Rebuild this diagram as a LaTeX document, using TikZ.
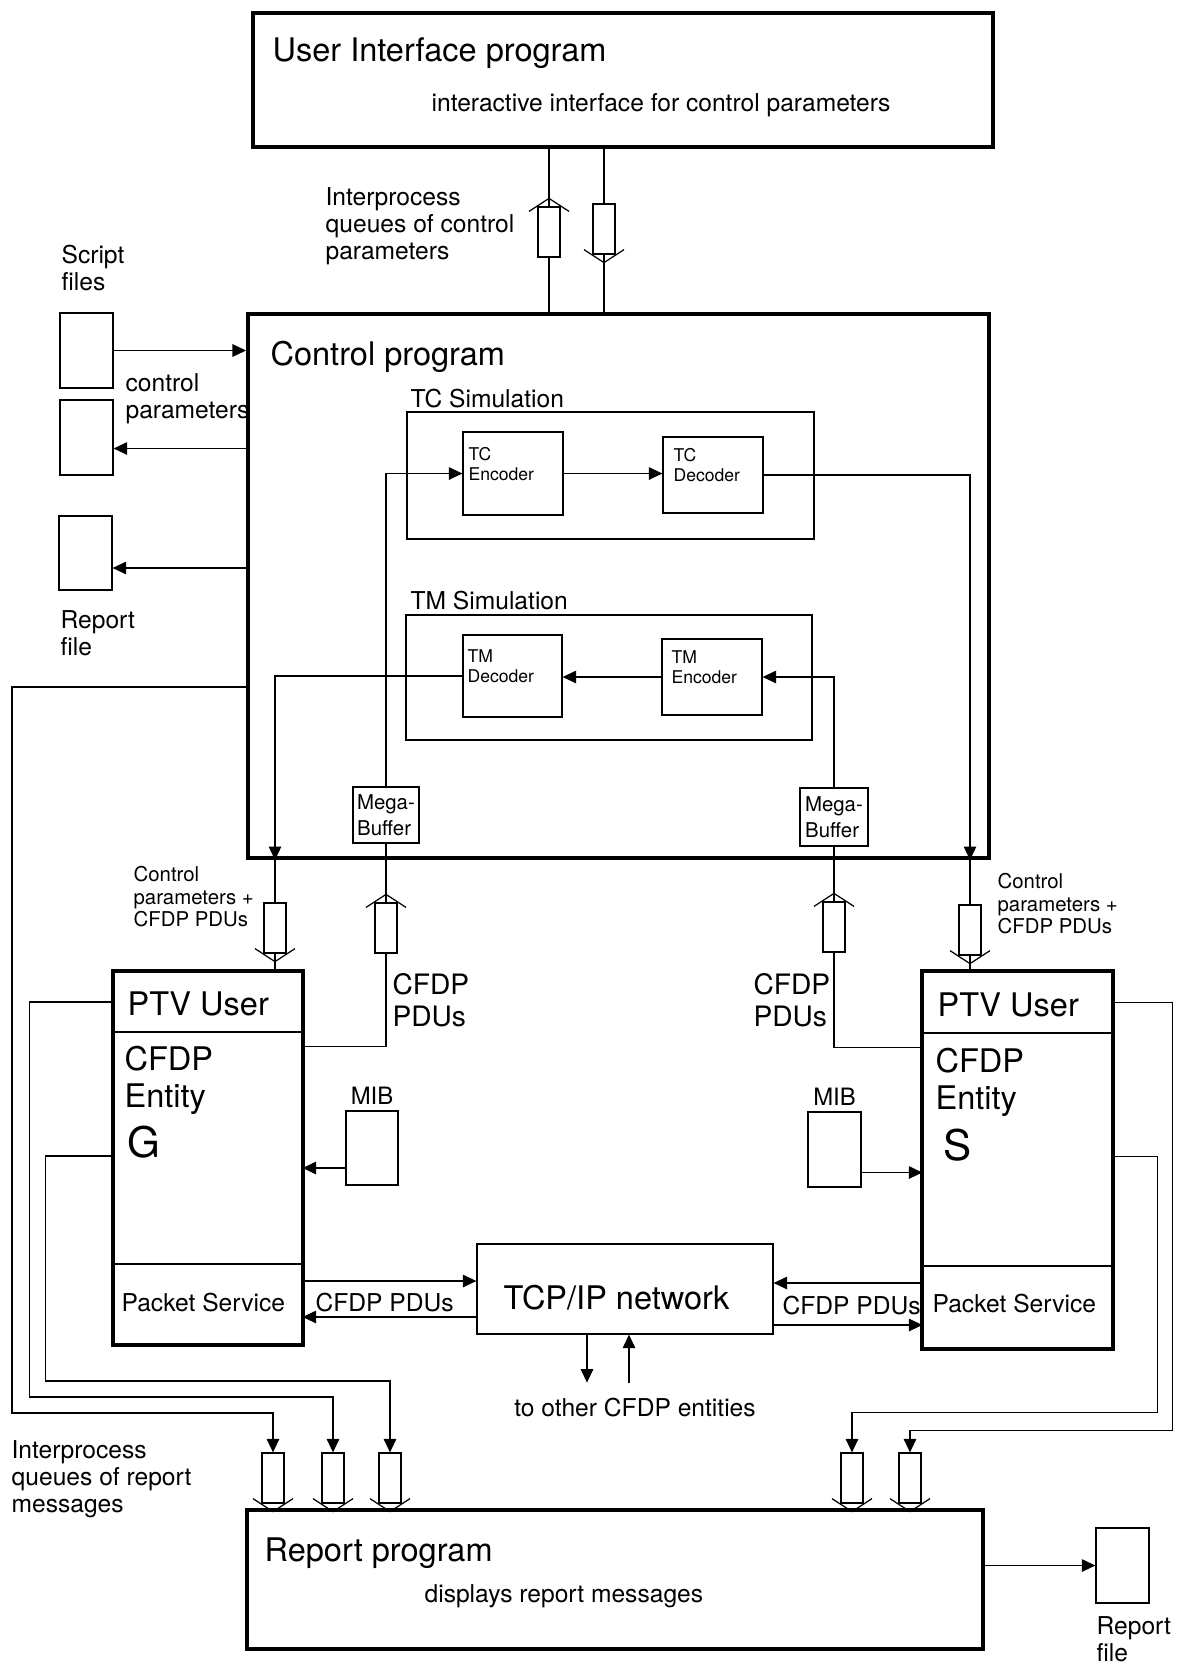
\documentclass[tikz,border=0pt]{standalone}
\usepackage{fontspec}
\setmainfont{TeX Gyre Heros}
\usetikzlibrary{arrows.meta}

\begin{document}
\begin{tikzpicture}[x=0.2mm, y=-0.2mm, line width=0.7pt,
    >={Triangle[length=2.7mm, width=2.5mm]},
    boite/.style={draw, rectangle, inner sep=0pt},
    epais/.style={line width=0.8mm},
    queue/.style={draw, rectangle, inner sep=0pt, minimum width=4.4mm, minimum height=10mm},
    texte/.style={inner sep=0pt, anchor=west, align=left},
    grand/.style={font=\fontsize{18.5}{21}\selectfont},
    moyen/.style={font=\fontsize{14}{15.5}\selectfont},
    petit/.style={font=\fontsize{11.6}{12.8}\selectfont},
    mini/.style={font=\fontsize{10}{11.4}\selectfont},
    pdu/.style={font=\fontsize{16}{18.2}\selectfont},
    lettre/.style={font=\fontsize{24}{26}\selectfont}]

    \useasboundingbox (0,0) rectangle (1177,1670);

    % Programme d'interface utilisateur
    \node[boite, epais, minimum width=148mm, minimum height=26.8mm] (UI) at (623,80) {};
    \node[texte, grand] (UIt) at (272,53) {User Interface program};
    \node[texte, moyen] (UIs) at (431,105) {interactive interface for control parameters};

    % Programme de controle
    \node[boite, epais, minimum width=148.2mm, minimum height=108.8mm] (CP) at (618.5,586) {};
    \node[texte, grand] (CPt) at (270,357) {Control program};

    % Files de parametres entre UI et controle
    \node[queue] (QA) at (549,232) {};
    \node[queue] (QB) at (604,229) {};
    \node[texte, moyen] (QAt) at (325,226) {Interprocess\\queues of control\\parameters};
    \draw (CP.north -| QA) -- (QA.south);
    \draw (QA.north) -- (QA.north |- UI.south);
    \draw (UI.south -| QB) -- (QB.north);
    \draw (QB.south) -- (QB.south |- CP.north);

    % Fichiers de script et de rapport
    \node[texte, moyen] (S1t) at (61,268) {Script\\files};
    \node[boite, minimum width=10.6mm, minimum height=15mm] (S1) at (86.5,350.5) {};
    \node[boite, minimum width=10.6mm, minimum height=15mm] (S2) at (86.5,437.5) {};
    \node[texte, moyen] (S2t) at (125,399) {control\\parameters};
    \node[boite, minimum width=10.6mm, minimum height=14.8mm] (R1) at (85.5,553) {};
    \node[texte, moyen] (R1t) at (60,633) {Report\\file};
    \coordinate (S2e) at ([yshift=-2.2mm]S2.east);
    \coordinate (R1e) at ([yshift=-3mm]R1.east);
    \draw[->] (S1.east) -- (S1.east -| CP.west);
    \draw[->] (S2e -| CP.west) -- (S2e);
    \draw[->] (R1e -| CP.west) -- (R1e);

    % Simulation TC
    \node[boite, minimum width=81.4mm, minimum height=25.4mm] (TCS) at (610.5,475.5) {};
    \node[texte, moyen] (TCSt) at (410,399) {TC Simulation};
    \node[boite, minimum width=20mm, minimum height=16.6mm] (TCE) at (513,473.5) {};
    \node[texte, mini] (TCEt) at (468,464) {TC\\Encoder};
    \node[boite, minimum width=20mm, minimum height=15.2mm] (TCD) at (713,475) {};
    \node[texte, mini] (TCDt) at (673,465) {TC\\Decoder};
    \draw[->] (TCE.east) -- (TCE.east -| TCD.west);

    % Simulation TM
    \node[boite, minimum width=81.2mm, minimum height=25mm] (TMS) at (609,677.5) {};
    \node[texte, moyen] (TMSt) at (410,601) {TM Simulation};
    \node[boite, minimum width=19.8mm, minimum height=16.4mm] (TMD) at (512.5,676) {};
    \node[texte, mini] (TMDt) at (467,666) {TM\\Decoder};
    \node[boite, minimum width=20mm, minimum height=15.2mm] (TME) at (712,677) {};
    \node[texte, mini] (TMEt) at (671,667) {TM\\Encoder};
    \draw[->] (TME.west) -- (TME.west -| TMD.east);

    % Mega-buffers
    \node[boite, align=left, font=\fontsize{11.6}{14.5}\selectfont, minimum width=13.2mm, minimum height=11.2mm] (MB1) at (386,815) {Mega-\\Buffer};
    \node[boite, align=left, font=\fontsize{11.6}{14.5}\selectfont, minimum width=13.6mm, minimum height=11.6mm] (MB2) at (834,817) {Mega-\\Buffer};
    \draw[->] (MB1.north) |- (TCE.west);
    \draw[->] (MB2.north) |- (TME.east);

    % Files entre controle et entites
    \node[queue] (QC) at (275,928) {};
    \node[queue] (QD) at (386,928) {};
    \node[queue] (QE) at (834,927) {};
    \node[queue] (QF) at (970,930) {};
    \node[texte, petit] (QCt) at (133,897) {Control\\parameters +\\CFDP PDUs};
    \node[texte, petit] (QFt) at (997,904) {Control\\parameters +\\CFDP PDUs};
    \node[texte, pdu] (QDt) at (392,1000) {CFDP\\PDUs};
    \node[texte, pdu] (QEt) at (753,1000) {CFDP\\PDUs};

    % Entite G
    \node[boite, minimum width=37.6mm, minimum height=12mm] (GU) at (208,1002) {};
    \node[boite, minimum width=37.6mm, minimum height=46.4mm] (GE) at (208,1148) {};
    \node[boite, minimum width=37.6mm, minimum height=16mm] (GP) at (208,1304) {};
    \draw[epais] (GU.north west) rectangle (GP.south east);
    \node[texte, grand] (GUt) at (127,1004) {PTV User};
    \node[texte, grand] (GEt) at (124,1080) {CFDP\\Entity};
    \node[texte, lettre] (GEl) at (127,1142) {G};
    \node[texte, moyen] (GPt) at (121,1303) {Packet Service};

    % Entite S
    \node[boite, minimum width=37.8mm, minimum height=12.2mm] (SU) at (1017.5,1002.5) {};
    \node[boite, minimum width=37.8mm, minimum height=46.6mm] (SE) at (1017.5,1149.5) {};
    \node[boite, minimum width=37.8mm, minimum height=16.4mm] (SP) at (1017.5,1307) {};
    \draw[epais] (SU.north west) rectangle (SP.south east);
    \node[texte, grand] (SUt) at (937,1005) {PTV User};
    \node[texte, grand] (SEt) at (935,1082) {CFDP\\Entity};
    \node[texte, lettre] (SEl) at (943,1145) {S};
    \node[texte, moyen] (SPt) at (932,1304) {Packet Service};

    % Liaisons TC / TM vers les entites
    \draw[->] (TCD.east) -| (QF.north |- CP.south);
    \draw (QF.north |- CP.south) -- (QF.north);
    \draw (QF.south) -- (QF.south |- SU.north);
    \draw[->] (TMD.west) -| (QC.north |- CP.south);
    \draw (QC.north |- CP.south) -- (QC.north);
    \draw (QC.south) -- (QC.south |- GU.north);
    \coordinate (Gpdu) at ([yshift=-3mm]GE.north east);
    \coordinate (Spdu) at ([yshift=-3mm]SE.north west);
    \draw (MB1.south) -- (QD.north);
    \draw (QD.south) |- (Gpdu);
    \draw (MB2.south) -- (QE.north);
    \draw (QE.south) |- (Spdu);

    % MIB
    \node[boite, minimum width=10.4mm, minimum height=14.8mm] (MIBG) at (372,1148) {};
    \node[boite, minimum width=10.6mm, minimum height=15mm] (MIBS) at (834.5,1149.5) {};
    \node[inner sep=0pt, anchor=south, font=\fontsize{13.6}{15}\selectfont] (MIBGt) at ([yshift=1mm]MIBG.north) {MIB};
    \node[inner sep=0pt, anchor=south, font=\fontsize{13.6}{15}\selectfont] (MIBSt) at ([yshift=1mm]MIBS.north) {MIB};
    \coordinate (Gmib) at ([yshift=-4mm]MIBG.west);
    \coordinate (Smib) at ([yshift=-4.6mm]MIBS.east);
    \draw[->] (Gmib) -- (Gmib -| GE.east);
    \draw[->] (Smib) -- (Smib -| SE.west);

    % Reseau TCP/IP
    \node[boite, minimum width=59.2mm, minimum height=18mm] (TCP) at (625,1289) {};
    \node[texte, grand] (TCPt) at (503,1298) {TCP/IP network};
    \coordinate (Gtx) at ([yshift=4.6mm]GP.east);
    \coordinate (Grx) at ([yshift=-2.6mm]GP.east);
    \coordinate (Stx) at ([yshift=4.8mm]SP.west);
    \coordinate (Srx) at ([yshift=-3.6mm]SP.west);
    \draw[->] (Gtx) -- (Gtx -| TCP.west);
    \draw[->] (Grx -| TCP.west) -- (Grx);
    \draw[->] (Stx) -- (Stx -| TCP.east);
    \draw[->] (Srx -| TCP.east) -- (Srx);
    \node[texte, moyen] (Gpt) at (315,1303) {CFDP PDUs};
    \node[texte, moyen] (Spt) at (782,1306) {CFDP PDUs};
    \node[moyen, inner sep=0pt] (AUT) at (635,1408) {to other CFDP entities};
    \draw[->] ([xshift=-7.6mm]TCP.south) -- ([xshift=-7.6mm, yshift=-9.6mm]TCP.south);
    \draw[->] ([xshift=0.8mm, yshift=-9.6mm]TCP.south) -- ([xshift=0.8mm]TCP.south);

    % Programme de rapport
    \node[boite, epais, minimum width=147.2mm, minimum height=27.8mm] (RP) at (615,1579.5) {};
    \node[texte, grand] (RPt) at (264,1553) {Report program};
    \node[texte, moyen] (RPs) at (424,1596) {displays report messages};
    \node[boite, minimum width=10.6mm, minimum height=15mm] (R2) at (1122.5,1565.5) {};
    \node[texte, moyen] (R2t) at (1096,1639) {Report\\file};
    \draw[->] (RP.east |- R2.west) -- (R2.west);

    % Files de messages de rapport
    \foreach \q/\x in {G1/273, G2/333, G3/390, D1/852, D2/910}
        \node[queue] (\q) at (\x,1478) {};
    \node[texte, moyen] (Gqt) at (11,1479) {Interprocess\\queues of report\\messages};
    \draw[->] ([yshift=-20.2mm]CP.west) -- ++(-234,0) -- ++(0,726) -| (G1.north);
    \draw[->] (GU.west) -- ++(-84,0) -- ++(0,395) -| (G2.north);
    \draw[->] ([yshift=-1.6mm]GE.west) -- ++(-68,0) -- ++(0,225) -| (G3.north);
    \draw[->] ([yshift=-1.4mm]SE.east) -- ++(45,0) -- ++(0,256) -| (D1.north);
    \draw[->] (SU.east) -- ++(60,0) -- ++(0,428) -| (D2.north);

    % Chevrons des files
    \foreach \q in {QA,QD,QE}
        \draw (\q.north) ++(-20,5) -- ++(20,-13) -- ++(20,13);
    \foreach \q in {QB,QC,QF,G1,G2,G3,D1,D2}
        \draw (\q.south) ++(-20,-5) -- ++(20,13) -- ++(20,-13);

\end{tikzpicture}
\end{document}
